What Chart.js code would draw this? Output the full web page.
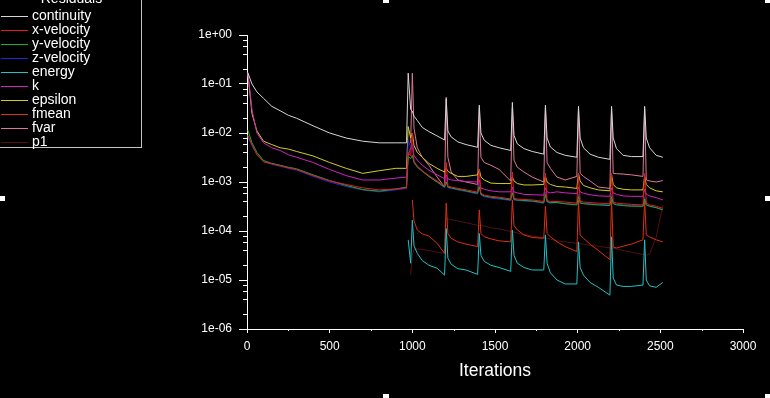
<!DOCTYPE html>
<html>
<head>
<meta charset="utf-8">
<script src="https://cdn.jsdelivr.net/npm/chart.js@4.4.1/dist/chart.umd.min.js"></script>
<style>
  html, body { margin: 0; padding: 0; background: #000; overflow: hidden; }
  #wrap { position: relative; width: 770px; height: 398px; }
  #chart { position: absolute; left: 0; top: 0; }
  #legend {
    position: absolute; left: -1px; top: -20px; width: 143px; height: 168px;
    border: 1px solid #c4c4c4; box-sizing: border-box;
    font-family: "Liberation Sans", Arial, sans-serif; font-size: 14px; color: #fff;
  }
  #legend .title { position: absolute; left: 0; width: 143px; top: 9px; text-align: center; line-height: 16px; }
  #legend .row { position: absolute; left: 1px; height: 14px; }
  #legend .row i { position: absolute; left: 0; top: 7px; width: 27px; height: 1px; }
  #legend .row span { position: absolute; left: 31px; top: -2px; line-height: 17px; white-space: nowrap; }
  .handle { position: absolute; width: 6px; height: 5px; background: #fff; }
</style>
</head>
<body>
<div id="wrap">
  <canvas id="chart" width="770" height="398"></canvas>
  <div id="legend"><div class="title">Residuals</div></div>
  <div class="handle" style="left:-1px;top:196px"></div>
  <div class="handle" style="left:383px;top:-2px"></div>
  <div class="handle" style="left:765px;top:-2px"></div>
  <div class="handle" style="left:765px;top:196px"></div>
  <div class="handle" style="left:383px;top:394px"></div>
  <div class="handle" style="left:765px;top:394px"></div>
</div>
<script>
// Iterações (eixo x) - mesma grade para todas as séries
const iterations = [
    5, 30, 60, 100, 150, 200, 250, 300, 400, 500, 600, 700, 800, 900, 965,
    975, 990, 1000, 1010, 1030, 1060, 1100, 1150, 1195,
    1205, 1215, 1235, 1275, 1325, 1395,
    1405, 1415, 1435, 1475, 1525, 1595,
    1605, 1615, 1635, 1675, 1725, 1795,
    1805, 1815, 1835, 1875, 1925, 1995,
    2005, 2015, 2035, 2075, 2125, 2195,
    2205, 2215, 2235, 2275, 2325, 2395,
    2405, 2415, 2435, 2475, 2515
];

const continuity = [
    1.7e-1, 1.0e-1, 6.9e-2, 5.1e-2, 3.5e-2, 2.85e-2, 2.3e-2, 2.0e-2, 1.4e-2, 1.0e-2, 7.9e-3, 6.8e-3, 6.3e-3, 6.3e-3, 6.3e-3,
    1.66e-1, 3.0e-2, 2.8e-2, 2.2e-2, 1.8e-2, 1.3e-2, 1.07e-2, 8.7e-3, 7.2e-3,
    5.0e-2, 1.1e-2, 8.3e-3, 6.6e-3, 5.8e-3, 5.1e-3,
    3.7e-2, 1.0e-2, 7.1e-3, 5.6e-3, 5.0e-3, 4.4e-3,
    4.2e-2, 8.9e-3, 6.0e-3, 4.8e-3, 4.2e-3, 3.7e-3,
    3.7e-2, 7.9e-3, 5.2e-3, 4.0e-3, 3.5e-3, 3.2e-3,
    3.5e-2, 7.9e-3, 5.0e-3, 3.7e-3, 3.2e-3, 2.9e-3,
    3.5e-2, 7.9e-3, 4.8e-3, 3.5e-3, 3.3e-3, 3.3e-3,
    3.5e-2, 7.9e-3, 5.0e-3, 3.5e-3, 3.2e-3
];

const xVelocity = [
    9.0e-3, 5.8e-3, 3.6e-3, 2.6e-3, 2.35e-3, 2.15e-3, 1.95e-3, 1.8e-3, 1.35e-3, 1.05e-3, 8.9e-4, 7.6e-4, 6.9e-4, 7.2e-4, 7.6e-4,
    4.0e-3, 3.4e-3, 1.0e-2, 2.6e-3, 2.1e-3, 1.7e-3, 1.35e-3, 1.05e-3, 8.3e-4,
    2.5e-3, 8.3e-4, 7.9e-4, 7.4e-4, 6.9e-4, 6.2e-4,
    1.8e-3, 5.9e-4, 5.4e-4, 5.1e-4, 4.9e-4, 4.5e-4,
    1.6e-3, 4.6e-4, 4.5e-4, 4.4e-4, 4.3e-4, 4.0e-4,
    1.5e-3, 4.2e-4, 4.0e-4, 4.0e-4, 3.9e-4, 3.7e-4,
    1.5e-3, 4.0e-4, 3.9e-4, 3.8e-4, 3.7e-4, 3.6e-4,
    1.5e-3, 3.9e-4, 3.7e-4, 3.6e-4, 3.5e-4, 3.4e-4,
    1.5e-3, 3.7e-4, 3.4e-4, 3.2e-4, 2.9e-4
];

const yVelocity = [
    1.15e-2, 6.3e-3, 4.0e-3, 2.75e-3, 2.4e-3, 2.2e-3, 2.0e-3, 1.86e-3, 1.4e-3, 1.07e-3, 8.5e-4, 7.0e-4, 6.5e-4, 7.2e-4, 7.9e-4,
    3.3e-3, 3.0e-3, 3.5e-3, 2.5e-3, 2.0e-3, 1.66e-3, 1.3e-3, 1.0e-3, 7.9e-4,
    1.0e-3, 7.9e-4, 7.6e-4, 7.1e-4, 6.6e-4, 5.9e-4,
    8.0e-4, 5.6e-4, 5.2e-4, 4.9e-4, 4.7e-4, 4.3e-4,
    6.0e-4, 4.4e-4, 4.3e-4, 4.2e-4, 4.1e-4, 3.8e-4,
    5.5e-4, 4.0e-4, 3.8e-4, 3.8e-4, 3.6e-4, 3.4e-4,
    5.0e-4, 3.7e-4, 3.6e-4, 3.5e-4, 3.4e-4, 3.3e-4,
    5.0e-4, 3.6e-4, 3.4e-4, 3.3e-4, 3.2e-4, 3.2e-4,
    4.5e-4, 3.4e-4, 3.2e-4, 3.0e-4, 2.7e-4
];

const zVelocity = [
    8.5e-3, 5.5e-3, 3.7e-3, 2.6e-3, 2.3e-3, 2.1e-3, 1.9e-3, 1.75e-3, 1.3e-3, 1.0e-3, 8.1e-4, 6.9e-4, 6.3e-4, 6.9e-4, 7.4e-4,
    7.2e-3, 5.0e-3, 6.0e-3, 2.7e-3, 2.1e-3, 1.7e-3, 1.3e-3, 1.0e-3, 7.6e-4,
    1.26e-3, 7.6e-4, 7.4e-4, 6.9e-4, 6.4e-4, 5.7e-4,
    1.0e-3, 5.4e-4, 5.0e-4, 4.7e-4, 4.5e-4, 4.2e-4,
    7.1e-4, 4.3e-4, 4.2e-4, 4.1e-4, 4.0e-4, 3.7e-4,
    6.3e-4, 3.9e-4, 3.7e-4, 3.8e-4, 3.6e-4, 3.5e-4,
    5.6e-4, 3.8e-4, 3.7e-4, 3.6e-4, 3.5e-4, 3.4e-4,
    5.6e-4, 3.7e-4, 3.5e-4, 3.4e-4, 3.3e-4, 3.2e-4,
    5.0e-4, 3.5e-4, 3.2e-4, 3.0e-4, 2.7e-4
];

const energy = [
    null, null, null, null, null, null, null, null, null, null, null, null, null, null, null,
    6.6e-5, 2.2e-5, 1.66e-4, 5.0e-5, 3.5e-5, 2.5e-5, 2.0e-5, 1.74e-5, 1.26e-5,
    1.12e-4, 2.8e-5, 2.1e-5, 1.7e-5, 1.6e-5, 1.3e-5,
    8.9e-5, 3.2e-5, 2.4e-5, 2.0e-5, 1.8e-5, 1.5e-5,
    1.05e-4, 3.2e-5, 2.2e-5, 1.8e-5, 1.6e-5, 1.6e-5,
    8.3e-5, 2.2e-5, 1.4e-5, 1.0e-5, 8.3e-6, 8.3e-6,
    6.0e-5, 1.8e-5, 1.26e-5, 8.9e-6, 7.1e-6, 4.9e-6,
    7.6e-5, 1.1e-5, 7.9e-6, 7.4e-6, 7.4e-6, 7.9e-6,
    6.6e-5, 1.0e-5, 7.6e-6, 7.1e-6, 8.9e-6
];

const k = [
    1.7e-1, 3.0e-2, 1.0e-2, 6.3e-3, 5.0e-3, 4.4e-3, 3.6e-3, 3.2e-3, 2.5e-3, 1.8e-3, 1.35e-3, 1.1e-3, 1.1e-3, 1.2e-3, 1.26e-3,
    3.5e-3, 5.0e-3, 5.0e-3, 3.5e-3, 2.8e-3, 2.2e-3, 1.74e-3, 1.4e-3, 1.17e-3,
    1.4e-3, 1.17e-3, 1.1e-3, 1.07e-3, 1.02e-3, 1.0e-3,
    1.1e-3, 7.6e-4, 7.1e-4, 6.6e-4, 6.3e-4, 6.3e-4,
    7.9e-4, 6.3e-4, 6.0e-4, 5.6e-4, 5.5e-4, 5.4e-4,
    7.6e-4, 6.3e-4, 6.0e-4, 6.3e-4, 6.0e-4, 5.8e-4,
    7.9e-4, 6.3e-4, 5.9e-4, 5.5e-4, 5.2e-4, 5.1e-4,
    7.6e-4, 6.0e-4, 5.6e-4, 5.2e-4, 5.1e-4, 5.1e-4,
    7.1e-4, 5.6e-4, 5.2e-4, 4.8e-4, 4.3e-4
];

const epsilon = [
    1.7e-1, 2.5e-2, 1.1e-2, 6.8e-3, 5.8e-3, 5.0e-3, 4.7e-3, 4.2e-3, 3.4e-3, 2.5e-3, 1.9e-3, 1.5e-3, 1.7e-3, 1.9e-3, 1.9e-3,
    1.35e-2, 7.9e-3, 1.0e-2, 5.6e-3, 4.0e-3, 3.2e-3, 2.4e-3, 1.9e-3, 1.6e-3,
    1.9e-3, 1.66e-3, 1.5e-3, 1.3e-3, 1.3e-3, 1.4e-3,
    1.8e-3, 1.26e-3, 1.1e-3, 9.5e-4, 9.3e-4, 9.3e-4,
    1.26e-3, 1.05e-3, 9.3e-4, 8.7e-4, 8.7e-4, 8.9e-4,
    1.3e-3, 1.0e-3, 8.9e-4, 8.1e-4, 7.9e-4, 7.4e-4,
    1.5e-3, 1.05e-3, 8.5e-4, 7.6e-4, 6.9e-4, 6.6e-4,
    1.4e-3, 8.9e-4, 7.6e-4, 7.1e-4, 6.9e-4, 6.9e-4,
    1.3e-3, 8.9e-4, 7.6e-4, 6.6e-4, 6.3e-4
];

const fmean = [
    null, null, null, null, null, null, null, null, null, null, null, null, null, null, null,
    null, null, 4.3e-4, 1.6e-4, 1.05e-4, 8.7e-5, 7.9e-5, 5.6e-5, 3.5e-5,
    3.7e-4, 8.9e-5, 7.1e-5, 6.0e-5, 5.4e-5, 4.8e-5,
    2.7e-4, 8.9e-5, 7.6e-5, 6.9e-5, 6.3e-5, 6.0e-5,
    4.3e-4, 1.3e-4, 1.05e-4, 8.3e-5, 7.4e-5, 7.1e-5,
    3.2e-4, 8.9e-5, 7.6e-5, 6.0e-5, 4.8e-5, 3.8e-5,
    4.3e-4, 8.3e-5, 7.1e-5, 5.4e-5, 4.0e-5, 2.6e-5,
    4.3e-4, 4.7e-5, 4.5e-5, 4.9e-5, 5.4e-5, 6.6e-5,
    4.3e-4, 8.3e-5, 7.6e-5, 6.6e-5, 6.0e-5
];

const fvar = [
    null, null, null, null, null, null, null, null, null, null, null, null, null, null, null,
    null, 6.3e-3, 1.66e-1, 1.26e-2, 5.0e-3, 3.2e-3, 2.2e-3, 1.26e-3, 7.9e-4,
    5.4e-2, 3.2e-3, 1.6e-3, 1.1e-3, 1.0e-3, 8.9e-4,
    3.2e-2, 3.2e-3, 2.5e-3, 2.2e-3, 1.8e-3, 1.05e-3,
    3.2e-2, 2.8e-3, 2.0e-3, 1.6e-3, 1.26e-3, 1.0e-3,
    3.2e-2, 2.5e-3, 1.9e-3, 1.26e-3, 1.1e-3, 1.3e-3,
    3.2e-2, 1.5e-3, 1.3e-3, 1.05e-3, 7.9e-4, 7.4e-4,
    3.2e-2, 1.5e-3, 1.48e-3, 1.45e-3, 1.4e-3, 1.3e-3,
    3.2e-2, 1.1e-3, 1.05e-3, 1.0e-3, 1.07e-3
];

const p1 = [
    null, null, null, null, null, null, null, null, null, null, null, null, null, null, null,
    null, 1.26e-5, 3.2e-5, 4.3e-5, 4.3e-5, 4.2e-5, 4.0e-5, 3.7e-5, 3.5e-5,
    1.8e-4, 1.78e-4, 1.7e-4, 1.6e-4, 1.48e-4, 1.3e-4,
    1.3e-4, 1.29e-4, 1.26e-4, 1.17e-4, 1.1e-4, 9.8e-5,
    9.8e-5, 9.5e-5, 9.1e-5, 8.5e-5, 7.9e-5, 7.2e-5,
    7.2e-5, 7.1e-5, 6.8e-5, 6.3e-5, 6.0e-5, 5.6e-5,
    5.6e-5, 5.5e-5, 5.4e-5, 5.1e-5, 4.9e-5, 4.5e-5,
    4.5e-5, 4.4e-5, 4.3e-5, 4.0e-5, 3.7e-5, 3.3e-5,
    3.3e-5, 3.2e-5, 3.4e-5, 7.4e-5, 3.4e-4
];

// Ticks do eixo y (décadas) e do eixo x
const yDecades = [1e-6, 1e-5, 1e-4, 1e-3, 1e-2, 1e-1, 1];
const xMinorTicks = [250, 750, 1250, 1750, 2250, 2750];

// Nome, valores e cor de cada resíduo
const series = [
    ['continuity', continuity, '#d6d6d6'],
    ['x-velocity', xVelocity, '#e41c1c'],
    ['y-velocity', yVelocity, '#1cb01c'],
    ['z-velocity', zVelocity, '#2424e4'],
    ['energy', energy, '#22c2c6'],
    ['k', k, '#d024bc'],
    ['epsilon', epsilon, '#d4cc24'],
    ['fmean', fmean, '#dc3014'],
    ['fvar', fvar, '#de7898'],
    ['p1', p1, '#561010']
];

const FONT = '"Liberation Sans", Arial, sans-serif';

// Legenda em HTML (texto real)
const legend = document.getElementById('legend');
series.forEach(([name, , color], i) => {
    const row = document.createElement('div');
    row.className = 'row';
    row.style.top = (28 + i * 14) + 'px';
    row.innerHTML = '<i style="background:' + color + '"></i><span>' + name + '</span>';
    legend.appendChild(row);
});

function formatDecade(v) {
    const e = Math.round(Math.log10(v));
    return '1e' + (e < 0 ? '-' : '+') + String(Math.abs(e)).padStart(2, '0');
}

// Ticks menores desenhados a partir das escalas do gráfico
const minorTicks = {
    id: 'minorTicks',
    afterDraw(chart) {
        const { ctx, scales: { x, y } } = chart;
        ctx.save();
        ctx.strokeStyle = '#ffffff';
        ctx.lineWidth = 1;
        ctx.beginPath();
        yDecades.slice(0, -1).forEach(d => {
            [2, 4, 6, 8].forEach(m => {
                const py = Math.round(y.getPixelForValue(m * d)) + 0.5;
                ctx.moveTo(x.left - 4, py);
                ctx.lineTo(x.left, py);
            });
        });
        xMinorTicks.forEach(v => {
            const px = Math.round(x.getPixelForValue(v)) + 0.5;
            ctx.moveTo(px, y.bottom);
            ctx.lineTo(px, y.bottom + 2);
        });
        ctx.stroke();
        ctx.restore();
    }
};

new Chart(document.getElementById('chart'), {
    type: 'line',
    data: {
        labels: iterations,
        datasets: series.map(([name, values, color]) => ({
            label: name,
            data: values,
            borderColor: color,
            backgroundColor: color,
            borderWidth: 1,
            pointRadius: 0,
            tension: 0,
            spanGaps: false
        }))
    },
    options: {
        responsive: false,
        animation: false,
        events: [],
        layout: { padding: { left: 0, right: 27, top: 35, bottom: 0 } },
        plugins: {
            legend: { display: false },
            tooltip: { enabled: false }
        },
        scales: {
            x: {
                type: 'linear',
                min: 0,
                max: 3000,
                afterFit: (scale) => { scale.height = 69; },
                ticks: {
                    stepSize: 500,
                    color: '#ffffff',
                    font: { family: FONT, size: 12 },
                    padding: 6,
                    maxRotation: 0,
                    callback: (v) => String(v)
                },
                grid: { drawOnChartArea: false, tickLength: 4, color: '#ffffff' },
                border: { color: '#ffffff' },
                title: {
                    display: true,
                    text: 'Iterations',
                    color: '#ffffff',
                    font: { family: FONT, size: 17.5 },
                    padding: { top: 0, bottom: 16 }
                }
            },
            y: {
                type: 'logarithmic',
                min: 1e-6,
                max: 1,
                afterFit: (scale) => { scale.width = 247; },
                afterBuildTicks: (scale) => { scale.ticks = yDecades.map(v => ({ value: v })); },
                ticks: {
                    color: '#ffffff',
                    font: { family: FONT, size: 12 },
                    padding: 7,
                    autoSkip: false,
                    callback: (v) => formatDecade(v)
                },
                grid: { drawOnChartArea: false, tickLength: 8, color: '#ffffff' },
                border: { color: '#ffffff' }
            }
        }
    },
    plugins: [minorTicks]
});
</script>
</body>
</html>
